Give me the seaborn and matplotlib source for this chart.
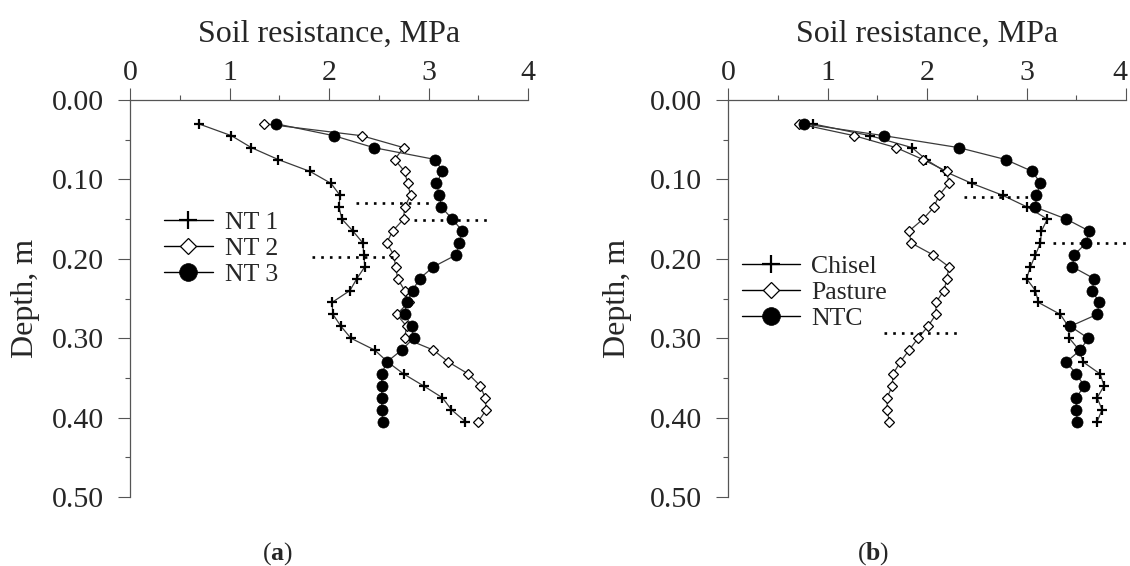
import numpy as np
import pandas as pd
import matplotlib
matplotlib.use("Agg")
import matplotlib.pyplot as plt
import matplotlib.transforms as mtransforms
import seaborn as sns

# ---------------- data ----------------
depth = [0.030, 0.045, 0.060, 0.075, 0.090, 0.105, 0.120, 0.135, 0.150, 0.165,
         0.180, 0.195, 0.210, 0.225, 0.240, 0.255, 0.270, 0.285, 0.300, 0.315,
         0.330, 0.345, 0.360, 0.375, 0.390, 0.405]

nt1 = [0.69, 1.02, 1.22, 1.49, 1.81, 2.02, 2.11, 2.10, 2.13, 2.24, 2.34, 2.35, 2.36,
       2.28, 2.21, 2.03, 2.04, 2.12, 2.22, 2.46, 2.59, 2.75, 2.95, 3.14, 3.23, 3.37]
nt2 = [1.35, 2.33, 2.75, 2.66, 2.76, 2.79, 2.82, 2.76, 2.75, 2.64, 2.58, 2.65, 2.67,
       2.69, 2.76, 2.80, 2.68, 2.78, 2.76, 3.05, 3.20, 3.40, 3.52, 3.57, 3.58, 3.50]
nt3 = [1.47, 2.05, 2.45, 3.07, 3.14, 3.08, 3.11, 3.13, 3.24, 3.34, 3.31, 3.28, 3.05,
       2.91, 2.84, 2.78, 2.76, 2.83, 2.85, 2.73, 2.58, 2.53, 2.53, 2.53, 2.53, 2.54]

chisel = [0.85, 1.43, 1.85, 1.99, 2.18, 2.45, 2.76, 3.01, 3.21, 3.15, 3.14, 3.09, 3.04,
          3.00, 3.09, 3.12, 3.34, 3.42, 3.43, 3.53, 3.57, 3.74, 3.78, 3.71, 3.76, 3.71]
pasture = [0.71, 1.27, 1.69, 1.96, 2.20, 2.22, 2.12, 2.07, 1.96, 1.82, 1.84, 2.06, 2.22,
           2.20, 2.17, 2.09, 2.09, 2.01, 1.91, 1.82, 1.73, 1.66, 1.65, 1.60, 1.60, 1.62]
ntc = [0.76, 1.57, 2.32, 2.79, 3.06, 3.14, 3.10, 3.09, 3.40, 3.63, 3.60, 3.48, 3.46,
       3.68, 3.66, 3.73, 3.71, 3.44, 3.62, 3.54, 3.40, 3.50, 3.58, 3.50, 3.50, 3.51]

labels_a = ["NT 1", "NT 2", "NT 3"]
labels_b = ["Chisel", "Pasture", "NTC"]

# dotted reference lines (depth, x start, x end)
ref_a_depth = [0.130, 0.151, 0.198]
ref_a_x0 = [2.27, 2.85, 1.83]
ref_a_x1 = [3.05, 3.63, 2.64]
ref_b_depth = [0.122, 0.180, 0.294]
ref_b_x0 = [2.37, 3.27, 1.57]
ref_b_x1 = [3.07, 4.00, 2.35]

x_ticks = [0, 1, 2, 3, 4]
y_ticks = [0.0, 0.1, 0.2, 0.3, 0.4, 0.5]

# ---------------- style ----------------
sns.set_theme(style="white")
plt.rcParams["font.family"] = ["Liberation Serif", "DejaVu Serif"]
plt.rcParams["mathtext.fontset"] = "custom"
plt.rcParams["mathtext.rm"] = "Liberation Serif"
plt.rcParams["mathtext.bf"] = "Liberation Serif:bold"

W, H = 1130, 566
fig = plt.figure(figsize=(W / 100, H / 100), dpi=100)
ax1 = fig.add_axes([130 / W, 69 / H, 398 / W, 397 / H])
ax2 = fig.add_axes([728 / W, 69 / H, 398 / W, 397 / H])

line_col = "#3a3a3a"
spine_col = "#555555"

styles = [
    dict(marker="+", markersize=7.8, markeredgewidth=1.6, markeredgecolor="black",
         markerfacecolor="black"),
    dict(marker="D", markersize=5.2, markeredgewidth=0.9, markeredgecolor="black",
         markerfacecolor="white"),
    dict(marker="o", markersize=8.0, markeredgewidth=0.5, markeredgecolor="black",
         markerfacecolor="black"),
]


def draw_panel(ax, series, labels, rd, rx0, rx1, leg_xy, hlen, hpad, ylab_x):
    for vals, lab, st in zip(series, labels, styles):
        df = pd.DataFrame({"res": vals, "depth": depth})
        sns.lineplot(data=df, x="res", y="depth", sort=False, estimator=None,
                     ax=ax, color=line_col, linewidth=0.9, label=lab, **st)
    ax.hlines(rd, rx0, rx1, colors="black", linewidth=1.9,
              linestyles=[(0, (1, 2.3))])

    ax.set_xlim(0, 4)
    ax.set_ylim(0.5, 0.0)
    ax.xaxis.tick_top()
    ax.xaxis.set_label_position("top")
    ax.set_xticks(x_ticks)
    ax.set_xticklabels([str(v) for v in x_ticks])
    ax.set_xticks([0.5, 1.5, 2.5, 3.5], minor=True)
    ax.set_yticks(y_ticks)
    ax.set_yticklabels([f"{v:.2f}" for v in y_ticks])
    ax.set_yticks([0.05, 0.15, 0.25, 0.35, 0.45], minor=True)

    for side in ["right", "bottom"]:
        ax.spines[side].set_visible(False)
    for side in ["left", "top"]:
        ax.spines[side].set_color(spine_col)
        ax.spines[side].set_linewidth(0.9)

    ax.tick_params(axis="x", which="major", direction="out", length=8.8, width=0.8,
                   color=spine_col, labelsize=21.5, pad=1, top=True, bottom=False,
                   labeltop=True, labelbottom=False)
    ax.tick_params(axis="x", which="minor", direction="out", length=3.6, width=0.8,
                   color=spine_col, top=True, bottom=False)
    ax.tick_params(axis="y", which="major", direction="out", length=8.3, width=0.8,
                   color=spine_col, labelsize=21.5, pad=10.5, left=True)
    ax.tick_params(axis="y", which="minor", direction="out", length=3.6, width=0.8,
                   color=spine_col, left=True)

    ax.set_xlabel("Soil resistance, MPa", fontsize=23, va="center")
    ax.xaxis.set_label_coords(0.5, (497 - 34) / 397)
    ax.set_ylabel("Depth, m", fontsize=23, va="center")
    ax.yaxis.set_label_coords(ylab_x, 0.5)

    handles, labs = ax.get_legend_handles_labels()
    leg = ax.legend(handles, labs, loc="upper left", bbox_to_anchor=leg_xy,
                    frameon=False, fontsize=18.5, handlelength=hlen,
                    handletextpad=hpad, labelspacing=0.12, borderpad=0,
                    borderaxespad=0, markerscale=1.6)
    for h in leg.legend_handles:
        h.set_color("black")
        h.set_linewidth(1.0)


draw_panel(ax1, [nt1, nt2, nt3], labels_a, ref_a_depth, ref_a_x0, ref_a_x1,
           ((164 - 130) / 398, (497 - 211) / 397), 1.9, 0.47, (25 - 130) / 398)
draw_panel(ax2, [chisel, pasture, ntc], labels_b, ref_b_depth, ref_b_x0, ref_b_x1,
           ((742 - 728) / 398, (497 - 255) / 397), 2.26, 0.43, (618 - 728) / 398)

# keep the last top tick label of panel (b) inside the figure edge
last_lab = ax2.get_xticklabels()[-1]
last_lab.set_transform(last_lab.get_transform() +
                       mtransforms.ScaledTranslation(-6 / 100, 0, fig.dpi_scale_trans))

fig.text(277 / W, 1 - 554 / H, r"($\mathbf{a}$)", fontsize=18.5, ha="center", va="center")
fig.text(873 / W, 1 - 554 / H, r"($\mathbf{b}$)", fontsize=18.5, ha="center", va="center")

fig.savefig("out.png", dpi=100)
